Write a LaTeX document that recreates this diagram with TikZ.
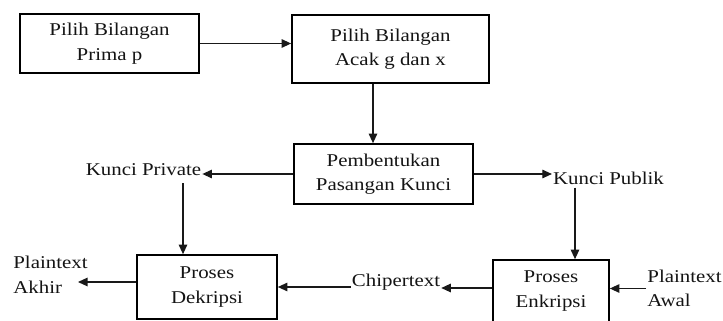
\documentclass[tikz,border=0pt]{standalone}
\usepackage{fontspec}
\setmainfont{Liberation Serif}[FakeStretch=1.16]
\usetikzlibrary{arrows.meta}
\begin{document}
\begin{tikzpicture}[x=1pt,y=-1pt,
  txt/.style={text=black!92, font=\fontsize{18}{24.5}\selectfont, align=center},
  box/.style={txt, draw=black, line width=1.7pt, inner sep=0pt},
  lbl/.style={txt, inner sep=1pt},
  arr/.style={-{Triangle[length=9.5pt,width=8.5pt]}, line width=1.1pt, draw=black!90}]
\useasboundingbox[fill=white] (0,0) rectangle (723,321);
\clip (0,0) rectangle (723,321);
% boxes
\node[box, minimum width=179pt, minimum height=59pt] (b1) at (109.5,43.5) {Pilih Bilangan\\Prima p};
\node[box, minimum width=197pt, minimum height=68pt] (b2) at (390.5,49) {Pilih Bilangan\\Acak g dan x};
\node[box, minimum width=179pt, minimum height=60pt] (b3) at (383.5,174) {Pembentukan\\Pasangan Kunci};
\node[box, minimum width=140pt, minimum height=64pt] (b4) at (207,287) {Proses\\Dekripsi};
\node[box, minimum width=116pt, minimum height=62pt] (b5) at (551,291) {Proses\\Enkripsi};
% labels
\node[lbl] (kpriv) at (143.5,170) {Kunci Private};
\node[lbl] (kpub) at (608.5,178) {Kunci Publik};
\node[lbl] (chip) at (396,282) {Chipertext};
\node[lbl, align=left] (pakhir) at (50.5,275) {Plaintext\\Akhir};
\node[lbl, align=left] (pawal) at (684.5,288.5) {Plaintext\\Awal};
\coordinate (ak) at (78,282);
% connectors
\draw[arr] (b1.east) -- (b1.east -| b2.west);
\draw[arr] ([xshift=-17.5pt]b2.south) -- ([xshift=-10.5pt]b3.north);
\draw[arr] (b3.west) -- (b3.west -| kpriv.east);
\draw[arr] (b3.east) -- (b3.east -| kpub.west);
\draw[arr] ([xshift=39.5pt,yshift=-6pt]kpriv.south) -- ([xshift=-24pt]b4.north);
\draw[arr] ([xshift=-33.5pt,yshift=-2pt]kpub.south) -- ([xshift=24pt]b5.north);
\draw[arr] ([yshift=3pt]b5.west) -- ([yshift=3pt]b5.west -| chip.east);
\draw[arr] (chip.west |- b4.east) -- (b4.east);
\draw[arr] (pawal.west) -- (pawal.west -| b5.east);
\draw[arr] ([yshift=5pt]b4.west) -- (ak);
\end{tikzpicture}
\end{document}
